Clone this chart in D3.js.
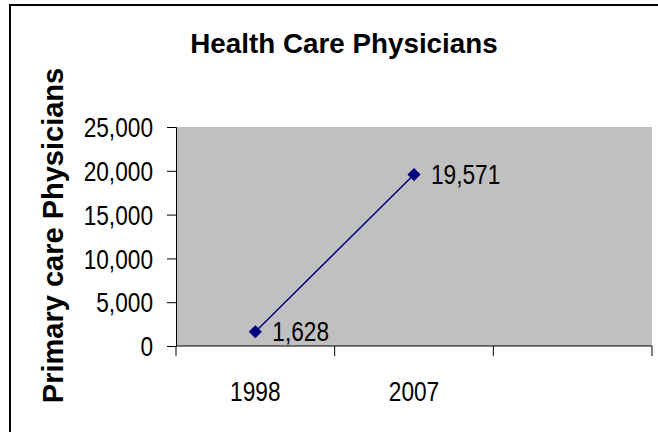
<!DOCTYPE html>
<html><head><meta charset="utf-8">
<script src="https://cdn.jsdelivr.net/npm/d3@7"></script>
<style>
html,body{margin:0;padding:0;background:#fff;}
svg{display:block;font-family:"Liberation Sans",Arial,sans-serif;}
</style></head>
<body>
<svg id="c" width="658" height="432"></svg>
<script>
const categories = ["1998", "2007", ""];
const seriesValues = [1628, 19571];
const yTicks = [0, 5000, 10000, 15000, 20000, 25000];
const title = "Health Care Physicians";
const yTitle = "Primary care Physicians";

const svg = d3.select("#c");
const plot = {left: 176, right: 652, top: 127, bottom: 346};
const navy = "#000080";
const sx = 0.84; // horizontal squeeze of regular text

// outer frame (extends past the image right/bottom)
svg.append("rect").attr("x", 10).attr("y", 5).attr("width", 720).attr("height", 500)
  .attr("fill", "#fff").attr("stroke", "#000").attr("stroke-width", 2);

const x = d3.scaleBand().domain(categories).range([plot.left, plot.right]);
const y = d3.scaleLinear().domain([0, 25000]).range([plot.bottom, plot.top]);

// plot background
svg.append("rect").attr("x", plot.left).attr("y", plot.top)
  .attr("width", plot.right - plot.left).attr("height", plot.bottom - plot.top)
  .attr("fill", "#C0C0C0");

// y axis
const yAxis = svg.append("g").attr("transform", `translate(${plot.left},0)`)
  .call(d3.axisLeft(y).tickValues(yTicks).tickFormat(d3.format(",")).tickSizeOuter(0).tickSize(9).tickPadding(0));
yAxis.select(".domain").attr("stroke", "#000");
yAxis.selectAll(".tick line").attr("stroke", "#000");
yAxis.selectAll(".tick text").attr("font-size", 27).attr("fill", "#000")
  .attr("x", 0).attr("dy", "0.36em").attr("text-anchor", "end")
  .attr("transform", `translate(-23,0) scale(${sx},1)`);

// x axis line and boundary ticks
const xg = svg.append("g");
xg.append("line").attr("x1", plot.left).attr("x2", plot.right)
  .attr("y1", plot.bottom).attr("y2", plot.bottom).attr("stroke", "#000");
const bounds = categories.map(c => x(c)).concat([plot.right]);
xg.selectAll("line.bt").data(bounds).join("line").attr("class", "bt")
  .attr("x1", d => d).attr("x2", d => d)
  .attr("y1", plot.bottom).attr("y2", plot.bottom + 10).attr("stroke", "#000");
xg.selectAll("text").data(categories).join("text")
  .attr("transform", d => `translate(${x(d) + x.bandwidth() / 2},401) scale(${sx},1)`)
  .attr("text-anchor", "middle").attr("font-size", 27).attr("fill", "#000")
  .text(d => d);

// line series
const pts = seriesValues.map((v, i) => ({c: categories[i], v}));
const line = d3.line().x(d => x(d.c) + x.bandwidth() / 2).y(d => y(d.v));
svg.append("path").datum(pts).attr("d", line)
  .attr("fill", "none").attr("stroke", navy).attr("stroke-width", 1.5);
svg.selectAll("path.m").data(pts).join("path").attr("class", "m")
  .attr("d", d3.symbol(d3.symbolDiamond2, 110))
  .attr("transform", d => `translate(${x(d.c) + x.bandwidth() / 2},${y(d.v)})`)
  .attr("fill", navy);
svg.selectAll("text.dl").data(pts).join("text").attr("class", "dl")
  .attr("transform", d => `translate(${x(d.c) + x.bandwidth() / 2 + 17},${y(d.v)}) scale(${sx},1)`)
  .attr("dy", "0.36em").attr("font-size", 27).attr("fill", "#000")
  .text(d => d3.format(",")(d.v));

// title
svg.append("text").attr("transform", "translate(344,53) scale(1.03,1)")
  .attr("text-anchor", "middle").attr("font-size", 27).attr("font-weight", "bold")
  .text(title);

// y title
svg.append("text").attr("transform", "translate(63,235.5) rotate(-90)")
  .attr("text-anchor", "middle").attr("font-size", 29).attr("font-weight", "bold")
  .text(yTitle);
</script>
</body></html>
